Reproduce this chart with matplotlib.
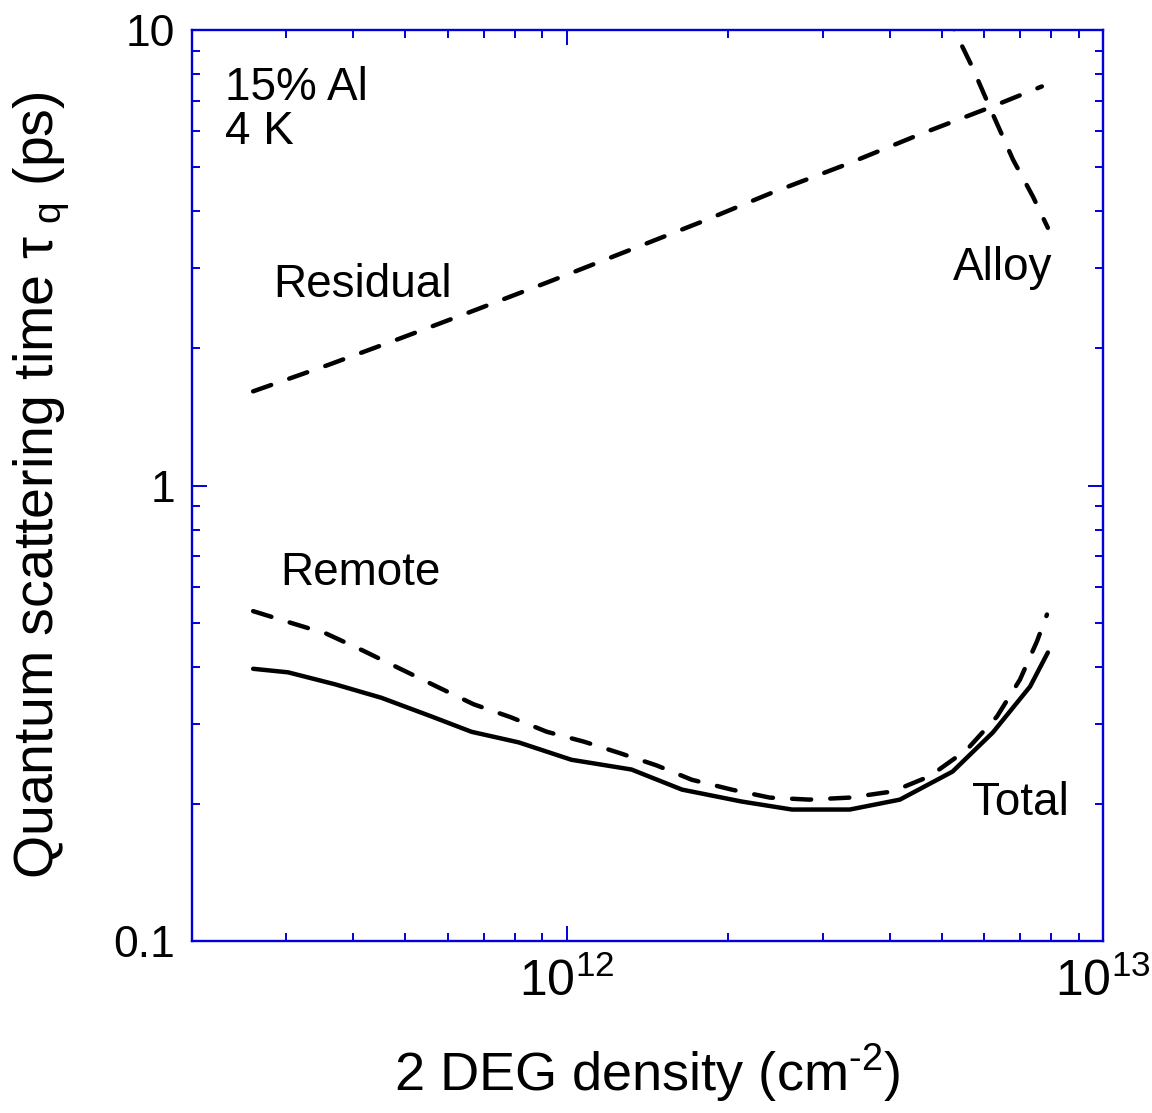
import numpy as np
import matplotlib.pyplot as plt
from matplotlib.ticker import LogLocator, NullFormatter

plt.rcParams['font.family'] = ['Liberation Sans', 'DejaVu Sans']
plt.rcParams['mathtext.default'] = 'regular'

# 2DEG density (cm^-2) vs quantum scattering time (ps)
dens_residual = np.array([2.60e11, 3.59e11, 4.92e11, 6.76e11, 9.25e11, 1.32e12,
                          1.77e12, 2.42e12, 3.32e12, 4.55e12, 6.15e12, 7.69e12])
tau_residual = np.array([1.61, 1.84, 2.11, 2.43, 2.80, 3.30,
                         3.78, 4.40, 5.07, 5.90, 6.76, 7.52])

dens_alloy = np.array([5.13e12, 5.28e12, 5.71e12, 6.15e12, 6.79e12, 7.40e12, 7.89e12])
tau_alloy = np.array([11.0, 10.0, 8.27, 6.76, 5.20, 4.31, 3.68])

dens_remote = np.array([2.60e11, 3.05e11, 3.56e11, 4.17e11, 4.89e11, 5.72e11, 6.70e11,
                        7.86e11, 9.18e11, 1.076e12, 1.25e12, 1.47e12, 1.71e12, 2.03e12,
                        2.39e12, 2.83e12, 3.37e12, 4.05e12, 4.75e12, 5.57e12, 6.34e12,
                        7.00e12, 7.53e12, 7.86e12])
tau_remote = np.array([0.530, 0.500, 0.473, 0.434, 0.396, 0.362, 0.331,
                       0.310, 0.288, 0.274, 0.259, 0.243, 0.226, 0.215,
                       0.2065, 0.2044, 0.2065, 0.213, 0.230, 0.263, 0.311,
                       0.375, 0.455, 0.521])

dens_total = np.array([2.60e11, 3.02e11, 3.70e11, 4.51e11, 5.60e11, 6.64e11, 8.13e11,
                       1.02e12, 1.32e12, 1.64e12, 2.12e12, 2.63e12, 3.37e12, 4.18e12,
                       5.24e12, 6.23e12, 7.31e12, 7.89e12])
tau_total = np.array([0.396, 0.389, 0.366, 0.342, 0.311, 0.288, 0.273,
                      0.250, 0.238, 0.215, 0.2024, 0.1944, 0.1944, 0.2044,
                      0.2355, 0.287, 0.362, 0.430])

x_ticks = [1e12, 1e13]
x_ticklabels = ['$10^{12}$', '$10^{13}$']
y_ticks = [0.1, 1, 10]
y_ticklabels = ['0.1', '1', '10']

blue = '#0000dd'
lw = 3.2
dash = (0, (4.3, 4.3))

fig = plt.figure(figsize=(11.52, 11.13), dpi=100)
ax = fig.add_axes([0.1667, 0.1545, 0.7908, 0.8185])

ax.plot(dens_residual, tau_residual, color='black', lw=lw, linestyle=dash, dash_capstyle='round')
ax.plot(dens_alloy, tau_alloy, color='black', lw=lw, linestyle=dash, dash_capstyle='round')
ax.plot(dens_remote, tau_remote, color='black', lw=lw, linestyle=dash, dash_capstyle='round')
ax.plot(dens_total, tau_total, color='black', lw=lw, solid_capstyle='round')

ax.set_xscale('log')
ax.set_yscale('log')
ax.set_xlim(2e11, 1e13)
ax.set_ylim(0.1, 10)

ax.set_xticks(x_ticks, x_ticklabels)
ax.set_yticks(y_ticks, y_ticklabels)
ax.yaxis.set_minor_locator(LogLocator(base=10, subs=np.arange(2, 10)))
ax.xaxis.set_minor_locator(LogLocator(base=10, subs=np.arange(2, 10)))
ax.xaxis.set_minor_formatter(NullFormatter())
ax.yaxis.set_minor_formatter(NullFormatter())

for s in ax.spines.values():
    s.set_color(blue)
    s.set_linewidth(1.7)

ax.tick_params(which='both', direction='in', top=True, right=True, color=blue,
               width=1.4, labelcolor='black')
ax.tick_params(which='major', length=11)
ax.tick_params(which='minor', length=6)
ax.tick_params(axis='x', which='major', pad=12, labelsize=36)
ax.tick_params(axis='y', which='major', pad=12, labelsize=32)

ax.set_xlabel('2 DEG density (cm$^{\u2010 2}$)', fontsize=39, labelpad=26)
ax.set_ylabel(r'Quantum scattering time $\tau_{\ q}$ (ps)', fontsize=40, labelpad=30)

ax.text(0.036, 0.936, '15% Al', transform=ax.transAxes, fontsize=33, va='center', ha='left')
ax.text(0.036, 0.888, '4 K', transform=ax.transAxes, fontsize=33, va='center', ha='left')
ax.text(0.089, 0.720, 'Residual', transform=ax.transAxes, fontsize=33, va='center', ha='left')
ax.text(0.835, 0.739, 'Alloy', transform=ax.transAxes, fontsize=33, va='center', ha='left')
ax.text(0.097, 0.404, 'Remote', transform=ax.transAxes, fontsize=33, va='center', ha='left')
ax.text(0.856, 0.1515, 'Total', transform=ax.transAxes, fontsize=33, va='center', ha='left')

fig.savefig('out.png', dpi=100)
